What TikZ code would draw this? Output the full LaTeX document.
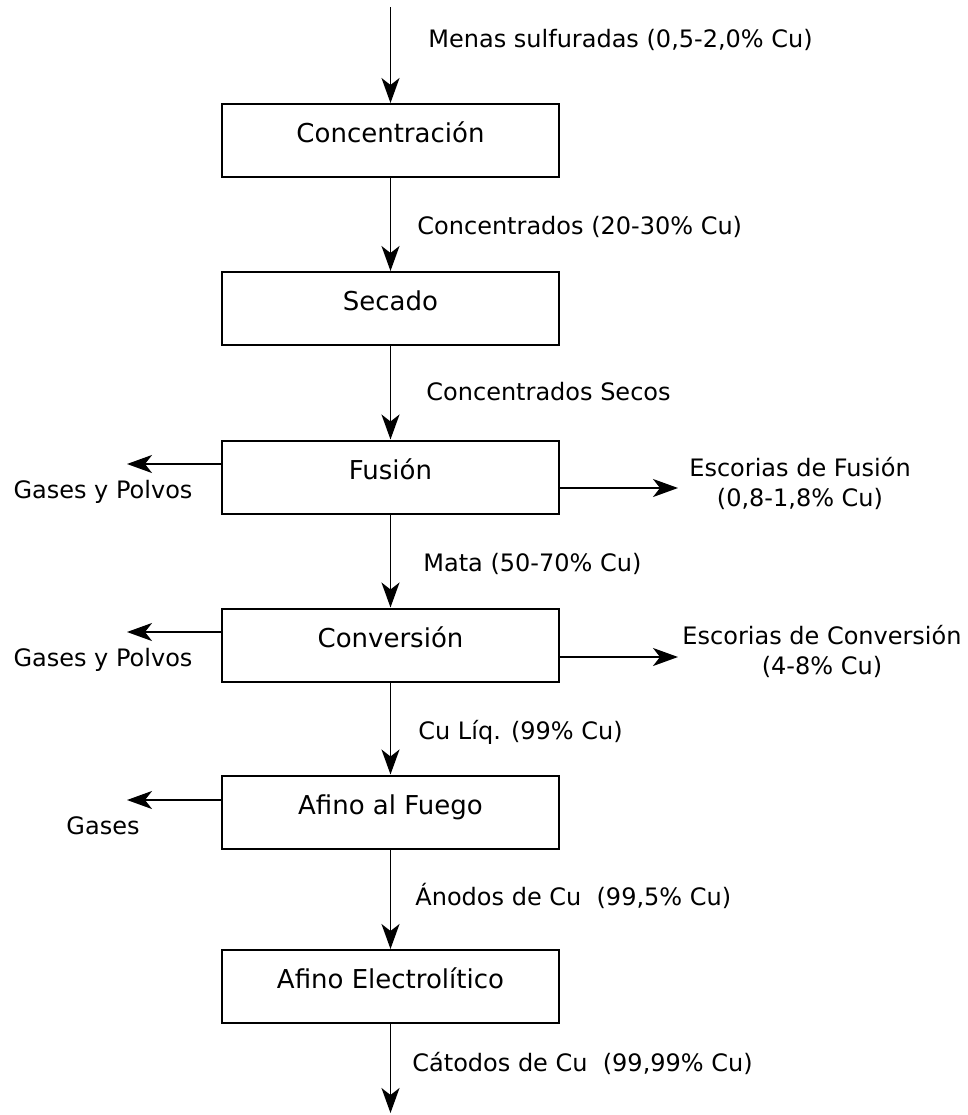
\documentclass[tikz,border=0pt]{standalone}
\usepackage{fontspec}
\setmainfont{DejaVu Sans}
\usepackage{tikz}
\usetikzlibrary{arrows.meta}
\tikzstyle{proceso} = [rectangle, draw=black, line width=1pt, minimum width=168.5pt, minimum height=36.5pt, text height=10pt, text depth=8pt, font=\fontsize{13pt}{16pt}\selectfont]
\tikzstyle{etiqueta} = [inner sep=0pt, anchor=base west, font=\fontsize{12pt}{15pt}\selectfont]
\tikzstyle{lateral} = [inner sep=0pt, anchor=base, align=center, font=\fontsize{12pt}{15pt}\selectfont]
\tikzstyle{flecha} = [-{Stealth[length=12.5pt, width=9pt, inset=3.5pt]}, line width=0.9pt]

\begin{document}
\begin{tikzpicture}[x=0.5pt, y=-0.5pt]
    \useasboundingbox (0,0) rectangle (968,1115);

    %% etapas del proceso
    \node (concentracion) [proceso] at (390.5,140.5) {Concentración};
    \node (secado) [proceso] at (390.5,308.5) {Secado};
    \node (fusion) [proceso] at (390.5,477) {Fusión};
    \node (conversion) [proceso] at (390.5,645) {Conversión};
    \node (fuego) [proceso] at (390.5,812) {Afino al Fuego};
    \node (electrolitico) [proceso] at (390.5,986.5) {Afino Electrolítico};

    %% flujo principal
    \coordinate (entrada) at (390.5,7);
    \coordinate (fin) at (390.5,1113);
    \draw[flecha] (entrada) -- (concentracion);
    \draw[flecha] (concentracion) -- (secado);
    \draw[flecha] (secado) -- (fusion);
    \draw[flecha] (fusion) -- (conversion);
    \draw[flecha] (conversion) -- (fuego);
    \draw[flecha] (fuego) -- (electrolitico);
    \draw[flecha] (electrolitico) -- (fin);

    %% productos intermedios
    \node (menas) [etiqueta] at (428,47) {Menas sulfuradas (0,5-2,0\% Cu)};
    \node (concentrados) [etiqueta] at (417,234) {Concentrados (20-30\% Cu)};
    \node (secos) [etiqueta] at (426,400) {Concentrados Secos};
    \node (mata) [etiqueta] at (423,571) {Mata (50-70\% Cu)};
    \node (liquido) [etiqueta] at (418,739) {Cu Líq. (99\% Cu)};
    \node (anodos) [etiqueta] at (415,905) {Ánodos de Cu~ (99,5\% Cu)};
    \node (catodos) [etiqueta] at (412,1071) {Cátodos de Cu~ (99,99\% Cu)};

    %% gases
    \coordinate (gfusion) at (127,464);
    \coordinate (gconversion) at (127,632);
    \coordinate (gfuego) at (127,800);
    \draw[flecha] (fusion.west |- gfusion) -- (gfusion);
    \draw[flecha] (conversion.west |- gconversion) -- (gconversion);
    \draw[flecha] (fuego.west |- gfuego) -- (gfuego);
    \node (gasesfusion) [lateral] at (103,498) {Gases y Polvos};
    \node (gasesconversion) [lateral] at (103,666) {Gases y Polvos};
    \node (gasesfuego) [lateral] at (103,834) {Gases};

    %% escorias
    \coordinate (efusion) at (678,488);
    \coordinate (econversion) at (678,657);
    \draw[flecha] (fusion.east |- efusion) -- (efusion);
    \draw[flecha] (conversion.east |- econversion) -- (econversion);
    \node (escfusion) [lateral] at (800,506) {Escorias de Fusión\\(0,8-1,8\% Cu)};
    \node (escconversion) [lateral] at (822,674) {Escorias de Conversión\\(4-8\% Cu)};
\end{tikzpicture}
\end{document}
